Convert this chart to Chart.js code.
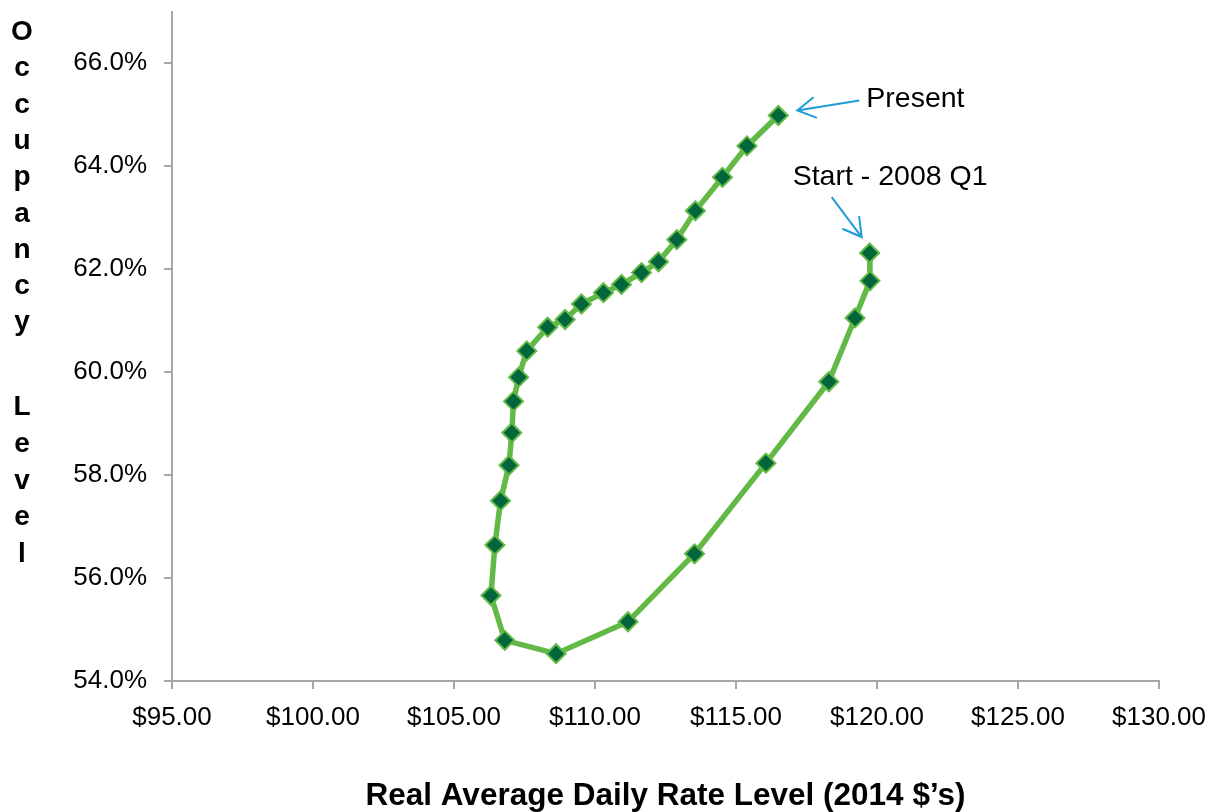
<!DOCTYPE html>
<html>
<head>
<meta charset="utf-8">
<title>Occupancy vs Real ADR</title>
<script src="https://cdn.jsdelivr.net/npm/chart.js@4.4.1/dist/chart.umd.min.js"></script>
<style>
  html, body { margin: 0; padding: 0; background: #ffffff; }
  canvas { display: block; }
</style>
</head>
<body>
<canvas id="chart" width="1211" height="812"></canvas>
<script>
// Quarterly path, 2008 Q1 through the present quarter
const adr = [
  119.74, 119.75, 119.22, 118.29, 116.06, 113.53, 111.17, 108.62, 106.80, 106.31,
  106.45, 106.65, 106.95, 107.05, 107.11, 107.29, 107.58, 108.32, 108.94, 109.52,
  110.30, 110.94, 111.65, 112.25, 112.90, 113.56, 114.52, 115.39, 116.50
];
const occupancy = [
  62.31, 61.77, 61.05, 59.81, 58.23, 56.47, 55.15, 54.53, 54.79, 55.66,
  56.64, 57.50, 58.19, 58.82, 59.43, 59.90, 60.41, 60.87, 61.02, 61.32,
  61.54, 61.70, 61.93, 62.14, 62.57, 63.13, 63.78, 64.39, 64.98
];
const xTickValues = [95, 100, 105, 110, 115, 120, 125, 130];
const yTickValues = [54, 56, 58, 60, 62, 64, 66];

const xTitle = 'Real Average Daily Rate Level (2014 $\u2019s)';
const yTitleTop = 'Occupancy';
const yTitleBottom = 'Level';
const startLabel = 'Start - 2008 Q1';
const presentLabel = 'Present';

const FONT = "'Liberation Sans', Arial, sans-serif";
const AXIS_GREY = '#A6A6A6';
const LINE_GREEN = '#62B946';
const MARKER_GREEN = '#02653C';
const ARROW_BLUE = '#1E9CD8';

function drawArrow(ctx, x1, y1, x2, y2) {
  const ang = Math.atan2(y1 - y2, x1 - x2);
  const len = 21, spread = 0.52;
  ctx.beginPath();
  ctx.moveTo(x1, y1);
  ctx.lineTo(x2, y2);
  ctx.moveTo(x2 + len * Math.cos(ang - spread), y2 + len * Math.sin(ang - spread));
  ctx.lineTo(x2, y2);
  ctx.lineTo(x2 + len * Math.cos(ang + spread), y2 + len * Math.sin(ang + spread));
  ctx.stroke();
}

const decorations = {
  id: 'decorations',
  afterDraw(chart) {
    const ctx = chart.ctx;
    const xs = chart.scales.x, ys = chart.scales.y;
    ctx.save();

    // stacked vertical axis title
    ctx.fillStyle = '#000';
    ctx.font = 'bold 28px ' + FONT;
    ctx.textAlign = 'center';
    ctx.textBaseline = 'alphabetic';
    yTitleTop.split('').forEach((ch, i) => ctx.fillText(ch, 22, 40 + i * 36.3));
    yTitleBottom.split('').forEach((ch, i) => ctx.fillText(ch, 22, 415 + i * 36.8));

    // callouts anchored to the first and last quarters
    const n = adr.length;
    const px0 = xs.getPixelForValue(adr[0]), py0 = ys.getPixelForValue(occupancy[0]);
    const pxN = xs.getPixelForValue(adr[n - 1]), pyN = ys.getPixelForValue(occupancy[n - 1]);

    ctx.font = '28.5px ' + FONT;
    ctx.textAlign = 'left';
    ctx.textBaseline = 'middle';
    ctx.fillText(presentLabel, pxN + 88, pyN - 16);
    ctx.fillText(startLabel, px0 - 77, py0 - 76);

    ctx.strokeStyle = ARROW_BLUE;
    ctx.lineWidth = 2;
    ctx.lineCap = 'butt';
    drawArrow(ctx, pxN + 81, pyN - 15, pxN + 19, pyN - 5);
    drawArrow(ctx, px0 - 38, py0 - 56, px0 - 8, py0 - 16);
    ctx.restore();
  }
};

new Chart(document.getElementById('chart'), {
  type: 'scatter',
  data: {
    datasets: [{
      data: adr.map((x, i) => ({ x: x, y: occupancy[i] })),
      showLine: true,
      tension: 0,
      borderColor: LINE_GREEN,
      borderWidth: 5.5,
      pointStyle: 'rectRot',
      pointRadius: 9.5,
      pointBackgroundColor: MARKER_GREEN,
      pointBorderColor: LINE_GREEN,
      pointBorderWidth: 2
    }]
  },
  options: {
    responsive: false,
    animation: false,
    events: [],
    layout: { padding: { top: 8, right: 52, left: 0, bottom: 0 } },
    plugins: { legend: { display: false }, tooltip: { enabled: false } },
    scales: {
      x: {
        type: 'linear',
        min: 95, max: 130,
        afterBuildTicks: s => { s.ticks = xTickValues.map(v => ({ value: v })); },
        afterFit: s => { s.height = 131; s.paddingLeft = 0; s.paddingRight = 0; },
        grid: { drawOnChartArea: false, drawTicks: true, tickLength: 8, color: AXIS_GREY, lineWidth: 2 },
        border: { display: true, color: AXIS_GREY, width: 2 },
        ticks: {
          color: '#000', padding: 13, maxRotation: 0, autoSkip: false,
          font: { family: FONT, size: 26 },
          callback: v => '$' + Number(v).toFixed(2)
        },
        title: {
          display: true, text: xTitle, color: '#000',
          font: { family: FONT, size: 31.5, weight: 'bold' },
          padding: { top: 0, bottom: -3 }
        }
      },
      y: {
        type: 'linear',
        min: 54, max: 67,
        afterBuildTicks: s => { s.ticks = yTickValues.map(v => ({ value: v })); },
        afterFit: s => { s.width = 172; s.paddingTop = 0; s.paddingBottom = 0; },
        grid: { drawOnChartArea: false, drawTicks: true, tickLength: 8, color: AXIS_GREY, lineWidth: 2 },
        border: { display: true, color: AXIS_GREY, width: 2 },
        ticks: {
          color: '#000', padding: 17, autoSkip: false,
          font: { family: FONT, size: 26 },
          callback: v => Number(v).toFixed(1) + '%'
        },
        title: { display: false }
      }
    }
  },
  plugins: [decorations]
});
</script>
</body>
</html>
